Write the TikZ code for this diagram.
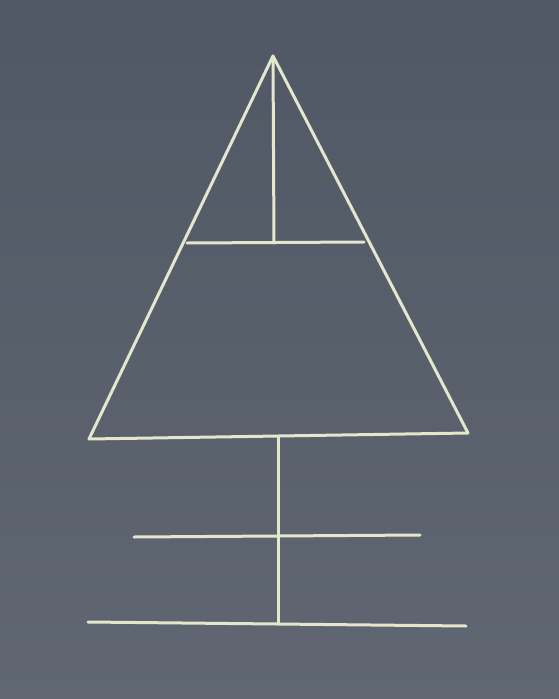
\documentclass[tikz,border=0pt]{standalone}
\usepackage{tikz}
\usetikzlibrary{positioning}
\definecolor{board}{RGB}{80,88,101}
\definecolor{boardlow}{RGB}{96,103,114}
\definecolor{chalk}{RGB}{228,231,205}

\begin{document}
\begin{tikzpicture}[
        x=1pt, y=-1pt,
        chalkline/.style={draw=chalk, line width=3pt, line cap=round, line join=round}
    ]
    \shade[top color=board, bottom color=boardlow] (0,0) rectangle (559,699);
    \useasboundingbox (0,0) rectangle (559,699);
    % triangle
    \coordinate (apex) at (273,56);
    \coordinate (bl) at (89,439);
    \coordinate (br) at (468,433);
    \coordinate (midl) at (187,243);
    \coordinate (midr) at (364,242);
    \coordinate (midc) at (274,243);
    % stem
    \coordinate (stemtop) at (278,436);
    \coordinate (crossl) at (134,537);
    \coordinate (crossr) at (420,535);
    \coordinate (groundl) at (88,622);
    \coordinate (groundr) at (466,626);
    \coordinate (stembot) at (278,623);
    \draw[chalkline] (apex) -- (bl) -- (br) -- cycle;
    \draw[chalkline] (midl) -- (midr);
    \draw[chalkline] (apex) -- (midc);
    \draw[chalkline] (stemtop) -- (stembot);
    \draw[chalkline] (crossl) -- (crossr);
    \draw[chalkline] (groundl) -- (groundr);
\end{tikzpicture}
\end{document}
